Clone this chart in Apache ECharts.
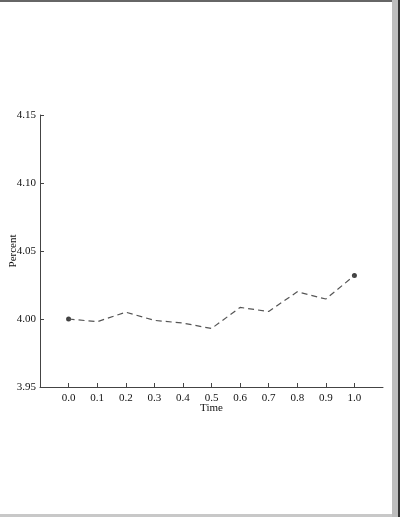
<!DOCTYPE html>
<html>
<head>
<meta charset="utf-8">
<script src="https://cdn.jsdelivr.net/npm/echarts@6/dist/echarts.min.js"></script>
<style>
html,body{margin:0;padding:0;background:#fff;}
#c{width:400px;height:517px;}
</style>
</head>
<body>
<div id="c"></div>
<script>
var times = [0.0, 0.1, 0.2, 0.3, 0.4, 0.5, 0.6, 0.7, 0.8, 0.9, 1.0];
var percent = [4.000, 3.998, 4.005, 3.999, 3.997, 3.993, 4.0085, 4.0055, 4.020, 4.0147, 4.032];
var xTicks = [0.0, 0.1, 0.2, 0.3, 0.4, 0.5, 0.6, 0.7, 0.8, 0.9, 1.0];
var yTicks = [3.95, 4.00, 4.05, 4.10, 4.15];
var endpoints = [[times[0], percent[0]], [times[times.length-1], percent[percent.length-1]]];

var font = 'Liberation Serif, Times New Roman, serif';
var chart = echarts.init(document.getElementById('c'));
chart.setOption({
  backgroundColor: '#fff',
  animation: false,
  grid: {left: 40, right: 17, top: 115, bottom: 130, containLabel: false, outerBoundsMode: 'none'},
  xAxis: {
    type: 'value', min: -0.1, max: 1.1, interval: 0.1,
    name: 'Time', nameLocation: 'middle', nameGap: 16, nameMoveOverlap: false,
    nameTextStyle: {fontFamily: font, fontSize: 11, color: '#111'},
    axisLine: {show: true, onZero: false, lineStyle: {color: '#444', width: 1}},
    axisTick: {show: true, inside: true, length: 4, customValues: xTicks, lineStyle: {color: '#444'}},
    axisLabel: {customValues: xTicks, margin: 6, fontFamily: font, fontSize: 11, color: '#111',
      formatter: function(v){ return v.toFixed(1); }},
    splitLine: {show: false}
  },
  yAxis: {
    type: 'value', min: 3.95, max: 4.15, interval: 0.05,
    name: 'Percent', nameLocation: 'middle', nameGap: 21, nameRotate: 90, nameMoveOverlap: false,
    nameTextStyle: {fontFamily: font, fontSize: 11, color: '#111'},
    axisLine: {show: true, onZero: false, lineStyle: {color: '#444', width: 1}},
    axisTick: {show: true, inside: true, length: 4, customValues: yTicks, lineStyle: {color: '#444'}},
    axisLabel: {customValues: yTicks, margin: 4, fontFamily: font, fontSize: 11, color: '#111',
      formatter: function(v){ return v.toFixed(2); }},
    splitLine: {show: false}
  },
  series: [
    {
      type: 'line',
      data: times.map(function(t, i){ return [t, percent[i]]; }),
      showSymbol: false, symbol: 'none',
      lineStyle: {color: '#555', width: 1.2, type: [6, 4]}
    },
    {
      type: 'scatter',
      data: endpoints,
      symbol: 'circle', symbolSize: 5,
      itemStyle: {color: '#111'}
    }
  ],
  graphic: [
    {type: 'rect', shape: {x: 0, y: 0, width: 400, height: 2}, style: {fill: '#666'}},
    {type: 'rect', shape: {x: 392, y: 0, width: 6, height: 517}, style: {fill: '#bdbdbd'}},
    {type: 'rect', shape: {x: 398, y: 0, width: 2, height: 517}, style: {fill: '#333'}},
    {type: 'rect', shape: {x: 0, y: 514, width: 392, height: 3}, style: {fill: '#c8c8c8'}}
  ]
});
</script>
</body>
</html>
